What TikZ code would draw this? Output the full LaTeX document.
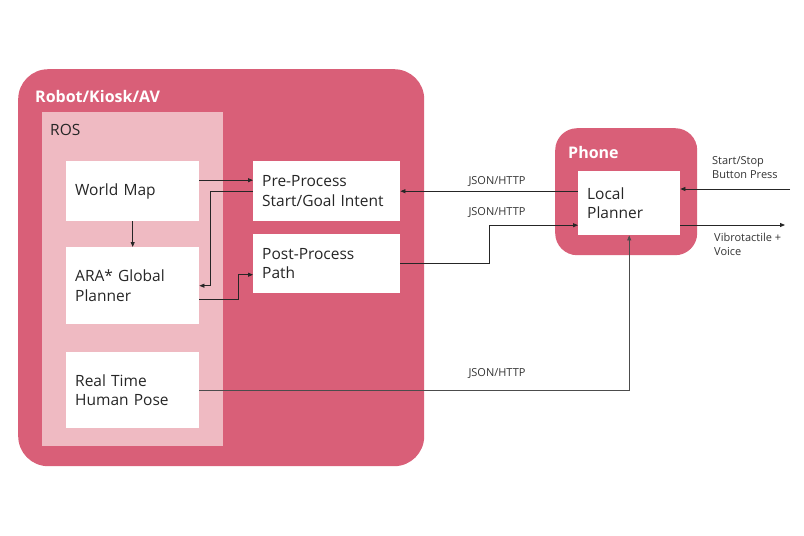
\documentclass[tikz,border=0pt]{standalone}
\usepackage{fontspec}
\setmainfont{Open Sans}
\usetikzlibrary{arrows.meta}
\definecolor{outerpink}{HTML}{D95F78}
\definecolor{innerpink}{HTML}{EFBAC2}
\tikzset{
  box/.style={fill=white, anchor=north west, align=left, inner xsep=9pt, inner ysep=0pt,
    font=\fontsize{15.5}{19.5}\selectfont, text=black!85},
  arr/.style={-{Triangle[length=5pt,width=4pt]}, line width=0.8pt, draw=black!85},
  lbl/.style={font=\fontsize{11}{14}\selectfont, text=black!80, inner sep=0pt},
  ttl/.style={font=\fontsize{16}{18}\selectfont\bfseries, text=white, anchor=west, inner sep=0pt},
}
\begin{document}
\begin{tikzpicture}[x=1pt,y=-1pt]
\useasboundingbox (0,0) rectangle (804,536);
% containers
\node[fill=outerpink, rounded corners=30pt, anchor=north west, minimum width=406pt, minimum height=397pt, inner sep=0pt] (robot) at (18,69) {};
\node[fill=innerpink, anchor=north west, minimum width=181pt, minimum height=334pt, inner sep=0pt] (ros) at (42,112) {};
\node[fill=outerpink, rounded corners=22pt, anchor=north west, minimum width=142pt, minimum height=127pt, inner sep=0pt] (phone) at (555,128) {};
% titles
\node[ttl] (robotT) at (35,96) {Robot/Kiosk/AV};
\node[ttl, font=\fontsize{15.5}{18}\selectfont, text=black!85] (rosT) at (50,130) {ROS};
\node[ttl] (phoneT) at (568,152) {Phone};
% boxes
\node[box, text width=115pt, minimum height=60pt] (wm) at (66,161) {World Map};
\node[box, text width=115pt, minimum height=77pt] (ara) at (66,247) {ARA* Global\\Planner};
\node[box, text width=115pt, minimum height=76pt] (hp) at (66,352) {Real Time\\Human Pose};
\node[box, text width=129pt, minimum height=60pt] (pre) at (253,161) {Pre-Process\\Start/Goal Intent};
\node[box, text width=129pt, minimum height=59pt] (post) at (253,234) {Post-Process\\Path};
\node[box, text width=84pt, minimum height=64pt] (lp) at (578,171) {Local\\Planner};
% free ends
\coordinate (ss) at (790,189);
\coordinate (vb) at (785,225);
% connectors
\draw[arr] ([yshift=11pt]wm.east) -- ([yshift=11pt]pre.west);
\draw[arr] (pre.west) -| ([xshift=11pt]ara.east) -- (ara.east);
\draw[arr] ([yshift=-14pt]ara.east) -| ([xshift=-15pt,yshift=-11pt]post.west) -- ([yshift=-11pt]post.west);
\draw[arr] (wm.south) -- (ara.north);
\draw[arr] (lp.west |- pre.east) -- (pre.east);
\draw[arr] (post.east) -| ([xshift=-89pt,yshift=-22pt]lp.west) -- ([yshift=-22pt]lp.west);
\draw[arr, draw=black!70] (hp.east) -| (lp.south);
\draw[arr] (ss) -- (lp.east |- ss);
\draw[arr] (lp.east |- vb) -- (vb);
% labels
\node[lbl] (l1) at (497,182) {JSON/HTTP};
\node[lbl] (l2) at (497,213) {JSON/HTTP};
\node[lbl] (l3) at (497,374) {JSON/HTTP};
\node[lbl, anchor=west, align=left] (l4) at (712,168) {Start/Stop\\Button Press};
\node[lbl, anchor=west, align=left] (l5) at (714,244) {Vibrotactile +\\Voice};
\end{tikzpicture}
\end{document}
